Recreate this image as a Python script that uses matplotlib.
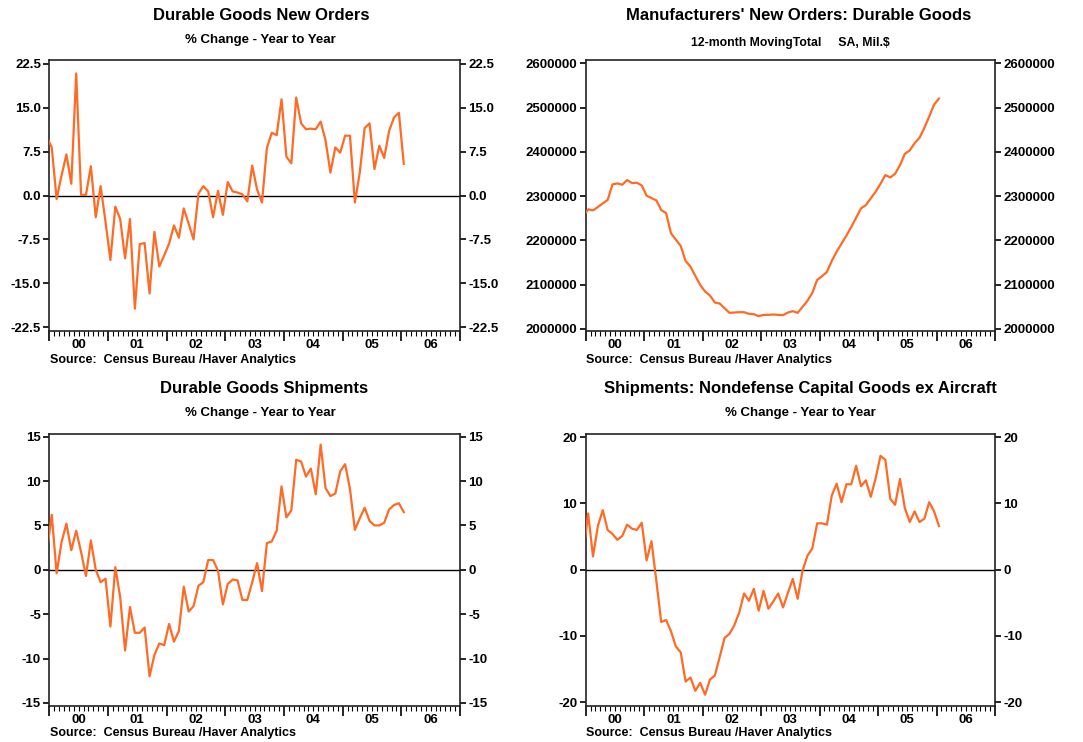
import matplotlib
matplotlib.use('Agg')
import matplotlib.pyplot as plt
import numpy as np
from matplotlib.ticker import FixedLocator, FixedFormatter

plt.rcParams['font.family'] = ['Liberation Sans', 'DejaVu Sans']
plt.rcParams['font.weight'] = 'bold'

# monthly data, Dec 1999 .. Jan 2006 (first point is clipped by the axis)
new_orders_yoy = [10.0, 8.2, -0.6, 3.4, 7.0, 2.0, 20.8, 0.1, 0.1, 5.0, -3.7, 1.6, -4.5,
                  -11.0, -1.9, -4.0, -10.7, -4.0, -19.3, -8.3, -8.1, -16.7, -6.2, -12.1, -10.2,
                  -8.2, -5.1, -7.2, -2.2, -4.8, -7.5, 0.3, 1.6, 0.7, -3.7, 0.8, -3.3,
                  2.3, 0.7, 0.5, 0.2, -1.0, 5.1, 1.0, -1.2, 8.1, 10.7, 10.3, 16.4,
                  6.6, 5.5, 16.7, 12.3, 11.3, 11.4, 11.3, 12.6, 9.4, 3.9, 8.2, 7.3,
                  10.2, 10.2, -1.2, 3.9, 11.5, 12.3, 4.5, 8.5, 6.4, 11.0, 13.3, 14.1,
                  5.4]

new_orders_12m = [2255000, 2269900, 2267700, 2275200, 2283500, 2291000, 2326300, 2328600, 2325600,
                  2336100, 2329300, 2330100, 2324100, 2300800, 2295500, 2290200, 2268400,
                  2261600, 2215800, 2201500, 2187200, 2153400, 2140600, 2119500, 2099200,
                  2084200, 2075200, 2059400, 2057100, 2046600, 2036000, 2036800, 2037500,
                  2037500, 2033800, 2033000, 2028500, 2031500, 2031500, 2032300, 2031500,
                  2030800, 2036800, 2039800, 2036000, 2049600, 2063100, 2081200, 2110500,
                  2118800, 2128600, 2153400, 2174400, 2192500, 2210500, 2230100, 2251100,
                  2272200, 2279700, 2294700, 2309800, 2327800, 2347400, 2342100, 2350400,
                  2370000, 2395500, 2403000, 2419600, 2431600, 2454200, 2479700, 2506800,
                  2520300]

shipments_yoy = [2.0, 6.2, -0.4, 3.1, 5.2, 2.2, 4.4, 2.0, -0.7, 3.3, 0.0, -1.4, -1.0,
                 -6.4, 0.3, -3.1, -9.1, -4.2, -7.1, -7.1, -6.5, -12.0, -9.6, -8.3, -8.5,
                 -6.1, -8.1, -6.9, -1.9, -4.7, -4.1, -1.8, -1.4, 1.1, 1.1, -0.1, -3.9,
                 -1.6, -1.1, -1.2, -3.4, -3.4, -1.4, 0.75, -2.4, 3.0, 3.2, 4.4, 9.4,
                 5.9, 6.7, 12.4, 12.2, 10.5, 11.4, 8.5, 14.1, 9.2, 8.3, 8.6, 11.1,
                 11.9, 9.1, 4.5, 5.8, 7.0, 5.5, 5.0, 5.0, 5.3, 6.8, 7.3, 7.5,
                 6.5]

capgoods_yoy = [2.5, 8.5, 2.0, 6.6, 9.0, 6.0, 5.4, 4.5, 5.1, 6.8, 6.2, 6.0, 7.1,
                1.4, 4.3, -1.7, -7.9, -7.6, -9.3, -11.6, -12.5, -16.9, -16.3, -18.3, -17.1,
                -18.9, -16.6, -16.0, -13.2, -10.3, -9.7, -8.4, -6.5, -3.6, -4.7, -2.9, -6.2,
                -3.2, -5.9, -4.8, -3.6, -5.7, -3.5, -1.4, -4.4, -0.15, 2.1, 3.2, 7.0,
                7.0, 6.8, 11.2, 13.0, 10.2, 12.9, 12.9, 15.7, 12.6, 13.5, 11.0, 13.8,
                17.2, 16.6, 10.7, 9.8, 13.7, 9.3, 7.2, 8.8, 7.2, 7.7, 10.2, 8.8,
                6.6]

months = 2000 + (np.arange(-1, 73) + 0.5) / 12.0
year_labels = ['00', '01', '02', '03', '04', '05', '06']

W, H = 1083, 742
fig = plt.figure(figsize=(W / 100, H / 100), dpi=100)
orange = '#ff6a24'


def make_axes(x0, x1, y0, y1):
    return fig.add_axes([x0 / W, 1 - y1 / H, (x1 - x0) / W, (y1 - y0) / H])


def style(ax, ticks, fmt, ylim, zero=True):
    ax.set_xlim(2000, 2007)
    ax.set_ylim(*ylim)
    ax.xaxis.set_major_locator(FixedLocator(np.arange(2000, 2008)))
    ax.xaxis.set_major_formatter(FixedFormatter([''] * 8))
    minor = [2000 + k / 12 for k in range(84) if k % 12 != 0]
    labs = [year_labels[k // 12] if k % 12 == 6 else '' for k in range(84) if k % 12 != 0]
    ax.xaxis.set_minor_locator(FixedLocator(minor))
    ax.xaxis.set_minor_formatter(FixedFormatter(labs))
    ax.tick_params(axis='x', which='major', direction='out', length=7, width=1.2,
                   top=False, labelsize=9)
    ax.tick_params(axis='x', which='minor', direction='out', length=3.5, width=0.8,
                   top=False, labelsize=9.5, pad=2.5)
    ax.set_yticks(ticks)
    ax.set_yticklabels([fmt(t) for t in ticks])
    ax.tick_params(axis='y', direction='out', length=4, width=1.2, left=True, right=True,
                   labelleft=True, labelright=True, labelsize=9.5, pad=2)
    for s in ax.spines.values():
        s.set_linewidth(1.2)
        s.set_color('#222222')
    if zero:
        ax.axhline(0, color='black', lw=1.0, zorder=1)


# panel 1
ax1 = make_axes(49.3, 460, 60, 331)
ax1.plot(months, new_orders_yoy, color=orange, lw=1.6, zorder=3)
style(ax1, [-22.5, -15, -7.5, 0, 7.5, 15, 22.5], lambda t: '%.1f' % t, (-23.1, 23.1))

# panel 2
ax2 = make_axes(585.7, 995, 60, 331)
ax2.plot(months, new_orders_12m, color=orange, lw=1.6, zorder=3)
style(ax2, list(range(2000000, 2600001, 100000)), lambda t: '%d' % t, (1995000, 2607500),
      zero=False)

# panel 3
ax3 = make_axes(49.3, 460, 434, 706)
ax3.plot(months, shipments_yoy, color=orange, lw=1.6, zorder=3)
style(ax3, [-15, -10, -5, 0, 5, 10, 15], lambda t: '%d' % t, (-15.35, 15.3))

# panel 4
ax4 = make_axes(585.7, 995, 434, 706)
ax4.plot(months, capgoods_yoy, color=orange, lw=1.6, zorder=3)
style(ax4, [-20, -10, 0, 10, 20], lambda t: '%d' % t, (-20.6, 20.5))


def ftext(x, y, s, size, ha='center'):
    fig.text(x / W, 1 - y / H, s, fontsize=size, ha=ha, va='center', fontweight='bold')


ftext(261, 15, 'Durable Goods New Orders', 12)
ftext(260, 40, '% Change - Year to Year', 9.5)
ftext(799, 15, "Manufacturers' New Orders: Durable Goods", 12)
ftext(790, 43, '12-month MovingTotal     SA, Mil.$', 8.8)
ftext(264, 388, 'Durable Goods Shipments', 12)
ftext(260, 413, '% Change - Year to Year', 9.5)
ftext(800, 388, 'Shipments: Nondefense Capital Goods ex Aircraft', 12)
ftext(800, 413, '% Change - Year to Year', 9.5)

src = 'Source:  Census Bureau /Haver Analytics'
ftext(50, 360, src, 9, ha='left')
ftext(586, 360, src, 9, ha='left')
ftext(50, 733, src, 9, ha='left')
ftext(586, 733, src, 9, ha='left')

fig.savefig('out.png', dpi=100)
